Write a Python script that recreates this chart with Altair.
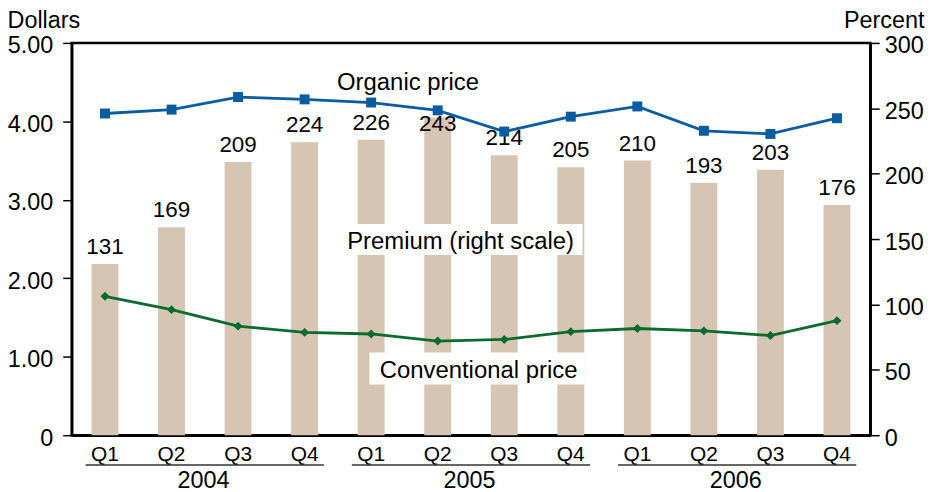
import altair as alt
import pandas as pd

# ---- data ----
years = ["2004"] * 4 + ["2005"] * 4 + ["2006"] * 4
quarters = ["Q1", "Q2", "Q3", "Q4"] * 3
# printed premium labels
premium = [131, 169, 209, 224, 226, 243, 214, 205, 210, 193, 203, 176]
# bar heights as drawn in the reference (the 2004 Q2 bar is drawn shorter than its label)
premium_bar = [131, 159, 209, 224, 226, 243, 214, 205, 210, 193, 203, 176]
organic = [4.10, 4.15, 4.31, 4.28, 4.24, 4.14, 3.87, 4.06, 4.19, 3.88, 3.84, 4.04]
conventional = [1.77, 1.60, 1.39, 1.31, 1.29, 1.20, 1.22, 1.32, 1.36, 1.33, 1.27, 1.46]
year_labels = ["2004", "2005", "2006"]

dollar_ticks = [0, 0.5, 1, 1.5, 2, 2.5, 3, 3.5, 4, 4.5, 5]
percent_ticks = [0, 50, 100, 150, 200, 250, 300]

FONT = "Liberation Sans"
BAR = "#D6C5B2"
BLUE = "#0A5CA0"
GREEN = "#0B6B2E"
TICKFS = 23.5

periods = [f"{y} {q}" for y, q in zip(years, quarters)]
df = pd.DataFrame({
    "period": periods, "year": years, "quarter": quarters,
    "premium": premium, "premium_bar": premium_bar,
    "organic": organic, "conventional": conventional,
})
ydf = pd.DataFrame({
    "year": year_labels,
    "first": [f"{y} Q1" for y in year_labels],
    "mid": [f"{y} Q2" for y in year_labels],
    "last": [f"{y} Q4" for y in year_labels],
})

xscale = alt.Scale(domain=periods, paddingInner=0.42, paddingOuter=0.21)
x = alt.X("period:N", scale=xscale, sort=periods,
          axis=alt.Axis(title=None, labelExpr="split(datum.label, ' ')[1]",
                        ticks=False, tickSize=0, labelPadding=8, labelFontSize=21,
                        labelFont=FONT, labelColor="black", labelAngle=0,
                        domainColor="black", domainWidth=2.5))

# ---- percent (right) layer ----
pscale = alt.Scale(domain=[0, 300], nice=False, zero=True)
paxis = alt.Axis(orient="right", values=percent_ticks, format="d", grid=False,
                 ticks=True, tickSize=9, tickColor="black", tickWidth=1.5,
                 domainColor="black", domainWidth=2.5,
                 labelFont=FONT, labelFontSize=TICKFS, labelColor="black",
                 labelPadding=5, labelOffset=3,
                 title="Percent", titleFont=FONT, titleFontSize=TICKFS,
                 titleFontWeight="normal", titleColor="black", titleAngle=0,
                 titleAlign="right", titleBaseline="alphabetic",
                 titleX=54, titleY=-15)

bars = alt.Chart(df).mark_bar(color=BAR, width=27).encode(
    x=x, y=alt.Y("premium_bar:Q", scale=pscale, axis=paxis))
blabels = alt.Chart(df).transform_filter("datum.premium < 240").mark_text(
    baseline="bottom", dy=-5, font=FONT, fontSize=22.5, color="black").encode(
    x=alt.X("period:N", sort=periods), y=alt.Y("premium_bar:Q"), text="premium:Q")
blabels_in = alt.Chart(df).transform_filter("datum.premium >= 240").mark_text(
    baseline="bottom", dy=19, font=FONT, fontSize=22.5, color="black").encode(
    x=alt.X("period:N", sort=periods), y=alt.Y("premium_bar:Q"), text="premium:Q")
percent_layer = alt.layer(bars, blabels, blabels_in)

# ---- dollar (left) layer ----
dscale = alt.Scale(domain=[0, 5], nice=False)
daxis = alt.Axis(orient="left", values=dollar_ticks, grid=False,
                 labelExpr="datum.value % 1 != 0 ? '' : (datum.value == 0 ? '0' : format(datum.value, '.2f'))",
                 tickSize=9, tickColor="black", tickWidth=1.5,
                 domainColor="black", domainWidth=2.5,
                 labelFont=FONT, labelFontSize=TICKFS, labelColor="black",
                 labelPadding=10, labelOffset=3,
                 title="Dollars", titleFont=FONT, titleFontSize=TICKFS,
                 titleFontWeight="normal", titleColor="black", titleAngle=0,
                 titleAlign="left", titleBaseline="alphabetic",
                 titleX=-65, titleY=-15)

box_df = pd.DataFrame({"x": [274, 299], "x2": [513, 515], "y": [182, 311], "y2": [213, 343]})
boxes = alt.Chart(box_df).mark_rect(color="white").encode(
    x=alt.X("x:Q", scale=None), x2="x2:Q", y=alt.Y("y:Q", scale=None), y2="y2:Q")

org_line = alt.Chart(df).mark_line(color=BLUE, strokeWidth=2.8).encode(
    x=alt.X("period:N", sort=periods),
    y=alt.Y("organic:Q", scale=dscale, axis=daxis))
org_pts = alt.Chart(df).mark_point(shape="square", filled=True, opacity=1,
                                   color=BLUE, size=100).encode(
    x=alt.X("period:N", sort=periods), y="organic:Q")
con_line = alt.Chart(df).mark_line(color=GREEN, strokeWidth=2.8).encode(
    x=alt.X("period:N", sort=periods), y="conventional:Q")
con_pts = alt.Chart(df).mark_point(shape="diamond", filled=True, opacity=1,
                                   color=GREEN, size=80).encode(
    x=alt.X("period:N", sort=periods), y="conventional:Q")

ann_text = ["Organic price", "Premium (right scale)", "Conventional price"]
ann_period = ["2005 Q1", "2005 Q2", "2005 Q2"]
ann_value = [4.52, 2.49, 0.84]
ann_dx = [37, 23, 41]
anns = []
for t, p, v, d in zip(ann_text, ann_period, ann_value, ann_dx):
    adf = pd.DataFrame({"text": [t], "period": [p], "value": [v]})
    anns.append(alt.Chart(adf).mark_text(font=FONT, fontSize=24, color="black",
                                         baseline="middle", dx=d, dy=2).encode(
        x=alt.X("period:N", sort=periods), y=alt.Y("value:Q"), text="text:N"))

dollar_layer = alt.layer(boxes, org_line, org_pts, con_line, con_pts, *anns)

# ---- year grouping under x axis ----
underline = alt.Chart(ydf).mark_rule(color="#333333", strokeWidth=1.5).encode(
    x=alt.X("first:N", sort=periods, bandPosition=0),
    x2=alt.X2("last:N", bandPosition=1),
    y=alt.value(424))
ytext = alt.Chart(ydf).mark_text(font=FONT, fontSize=TICKFS, color="black",
                                 baseline="alphabetic", dx=32).encode(
    x=alt.X("mid:N", sort=periods), y=alt.value(447), text="year:N")

chart = alt.layer(percent_layer, dollar_layer, underline, ytext).resolve_scale(
    y="independent").properties(
    width=802, height=394,
    autosize=alt.AutoSizeParams(type="none"),
    padding={"left": 64, "top": 34, "right": 56, "bottom": 56},
).configure_view(stroke="black", strokeWidth=2.5)

chart.save("out.html", embed_options={"renderer": "svg", "actions": False})
